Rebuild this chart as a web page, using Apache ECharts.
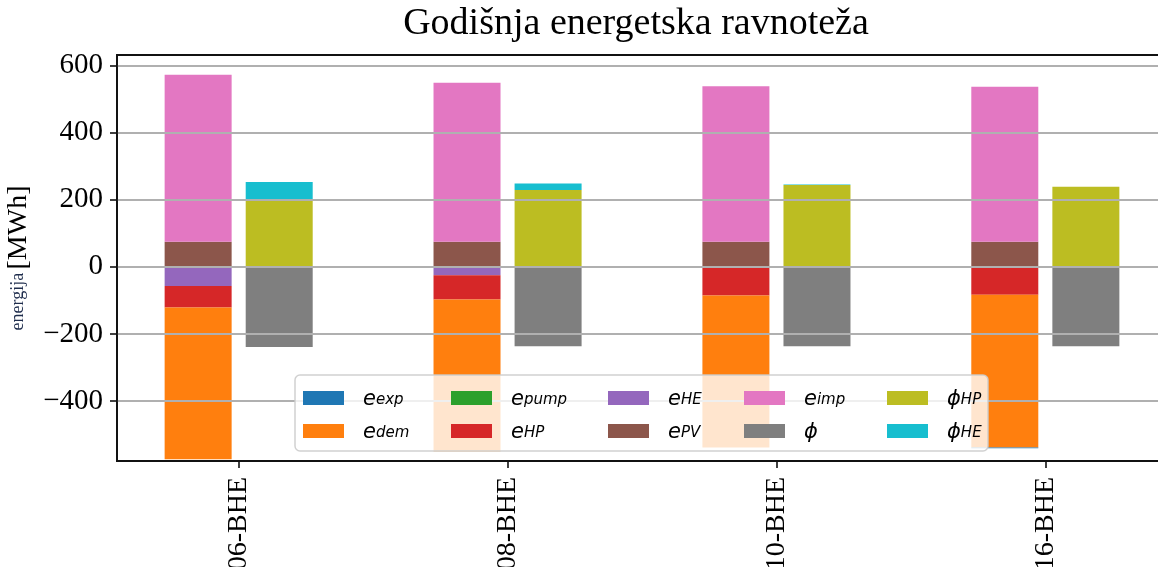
<!DOCTYPE html>
<html><head><meta charset="utf-8">
<script src="https://cdn.jsdelivr.net/npm/echarts@6/dist/echarts.min.js"></script>
<style>html,body{margin:0;padding:0;background:#fff}#c{width:1158px;height:567px}</style>
</head><body><div id="c"></div>
<script>
// ---- data ----
const categories = ['06-BHE', '08-BHE', '10-BHE', '16-BHE'];
const e_exp  = [0, 0, 0, -2];
const e_dem  = [-453, -453, -454, -456];
const e_pump = [0, 0, 0, 0];
const e_HP   = [-64, -72, -82, -83];
const e_HE   = [-57, -25, -3, 0];
const e_PV   = [75, 75, 75, 75];
const e_imp  = [498, 474, 464, 462];
const phi    = [-239, -237, -237, -237];
const phi_HP = [201, 229, 244, 239];
const phi_HE = [52, 20, 2, 0];
const yTicks = [-400, -200, 0, 200, 400, 600];
const catTicks = [0, 1, 2, 3];
const titleText = 'Godišnja energetska ravnoteža';

// ---- series definitions (order = stacking order from zero outward) ----
const defs = [
  {name: 'e_HE',  stack: 'e',   color: '#9467bd', vals: e_HE},
  {name: 'e_HP',  stack: 'e',   color: '#d62728', vals: e_HP},
  {name: 'e_pump',stack: 'e',   color: '#2ca02c', vals: e_pump},
  {name: 'e_dem', stack: 'e',   color: '#ff7f0e', vals: e_dem},
  {name: 'e_exp', stack: 'e',   color: '#1f77b4', vals: e_exp},
  {name: 'e_PV',  stack: 'e',   color: '#8c564b', vals: e_PV},
  {name: 'e_imp', stack: 'e',   color: '#e377c2', vals: e_imp},
  {name: 'phi',   stack: 'phi', color: '#7f7f7f', vals: phi},
  {name: 'phi_HP',stack: 'phi', color: '#bcbd22', vals: phi_HP},
  {name: 'phi_HE',stack: 'phi', color: '#17becf', vals: phi_HE}
];
const labels = {
  e_exp: ['e', 'exp'], e_dem: ['e', 'dem'], e_pump: ['e', 'pump'], e_HP: ['e', 'HP'],
  e_HE: ['e', 'HE'], e_PV: ['e', 'PV'], e_imp: ['e', 'imp'], phi: ['\u03d5', ''],
  phi_HP: ['\u03d5', 'HP'], phi_HE: ['\u03d5', 'HE']
};
// legend grid (column-major like the reference)
const legendCols = [['e_exp', 'e_dem'], ['e_pump', 'e_HP'], ['e_HE', 'e_PV'], ['e_imp', 'phi'], ['phi_HP', 'phi_HE']];
const colX = [303, 451, 608, 744, 887];
const rowC = [393, 426];

const rich = {
  m: {fontFamily: 'DejaVu Sans', fontStyle: 'italic', fontSize: 21, lineHeight: 20, padding: [3, 0, 0, 14], color: '#000'},
  s: {fontFamily: 'DejaVu Sans', fontStyle: 'italic', fontSize: 15, lineHeight: 8, verticalAlign: 'bottom', color: '#000'}
};
const legends = [];
legendCols.forEach((col, ci) => {
  col.forEach((nm, ri) => {
    legends.push({
      left: colX[ci], top: rowC[ri] - 7, padding: 0, orient: 'horizontal',
      itemWidth: 41, itemHeight: 14, icon: 'rect', selectedMode: false, z: 11,
      data: [nm],
      formatter: n => '{m|' + labels[n][0] + '}' + (labels[n][1] ? '{s|' + labels[n][1] + '}' : ''),
      textStyle: {rich: rich}
    });
  });
});

const ctx = document.createElement('canvas').getContext('2d');
ctx.font = '38px "Liberation Serif"';
const tw = ctx.measureText(titleText).width;
const titleCenter = 636;

const serif = 'Liberation Serif';
const chart = echarts.init(document.getElementById('c'), null, {renderer: 'canvas'});
chart.setOption({
  animation: false,
  backgroundColor: '#fff',
  title: {text: titleText, left: titleCenter - tw / 2, top: 5, padding: 0,
    textStyle: {fontFamily: serif, fontSize: 38, fontWeight: 'normal', color: '#000'}},
  grid: {left: 117, right: -9, top: 55, bottom: 106, show: true, borderColor: '#111', borderWidth: 1.8,
    backgroundColor: 'transparent', containLabel: false, outerBoundsMode: 'none'},
  legend: legends,
  graphic: [{type: 'rect', z: 10, shape: {x: 295, y: 375, width: 693, height: 76, r: 5},
    style: {fill: 'rgba(255,255,255,0.8)', stroke: 'rgba(204,204,204,0.9)', lineWidth: 1.5}}],
  xAxis: {
    type: 'value', min: -0.4525, max: 3.4525, z: 3,
    axisLine: {show: true, onZero: false, lineStyle: {color: '#111', width: 1.8}},
    axisTick: {show: true, length: 7, customValues: catTicks, lineStyle: {color: '#111', width: 1.6}},
    axisLabel: {customValues: catTicks, rotate: 90, margin: 16, fontFamily: serif, fontSize: 28, color: '#000',
      formatter: v => categories[Math.round(v)]},
    splitLine: {show: false}
  },
  yAxis: {
    type: 'value', min: -579, max: 632, z: 3,
    axisLine: {show: true, onZero: false, lineStyle: {color: '#111', width: 1.8}},
    axisTick: {show: true, length: 7, customValues: yTicks, lineStyle: {color: '#111', width: 1.6}},
    axisLabel: {customValues: yTicks, margin: 14, fontFamily: serif, fontSize: 29, color: '#000',
      formatter: v => v < 0 ? '\u2212' + (-v) : String(v)},
    splitLine: {show: true, lineStyle: {color: '#b0b0b0', width: 1.8}},
    name: '{a|energija} {b|[MWh]}', nameLocation: 'middle', nameRotate: 90, nameGap: 82,
    nameTextStyle: {rich: {
      a: {fontFamily: serif, fontSize: 18, color: '#1f2d4d'},
      b: {fontFamily: serif, fontSize: 28, color: '#000'}
    }}
  },
  series: defs.map(d => ({
    name: d.name, type: 'bar', stack: d.stack, barWidth: 67, barGap: '21%',
    itemStyle: {color: d.color}, silent: true,
    encode: {x: 1, y: 0},
    data: categories.map((c, i) => [d.vals[i], i])
  }))
});
</script></body></html>
